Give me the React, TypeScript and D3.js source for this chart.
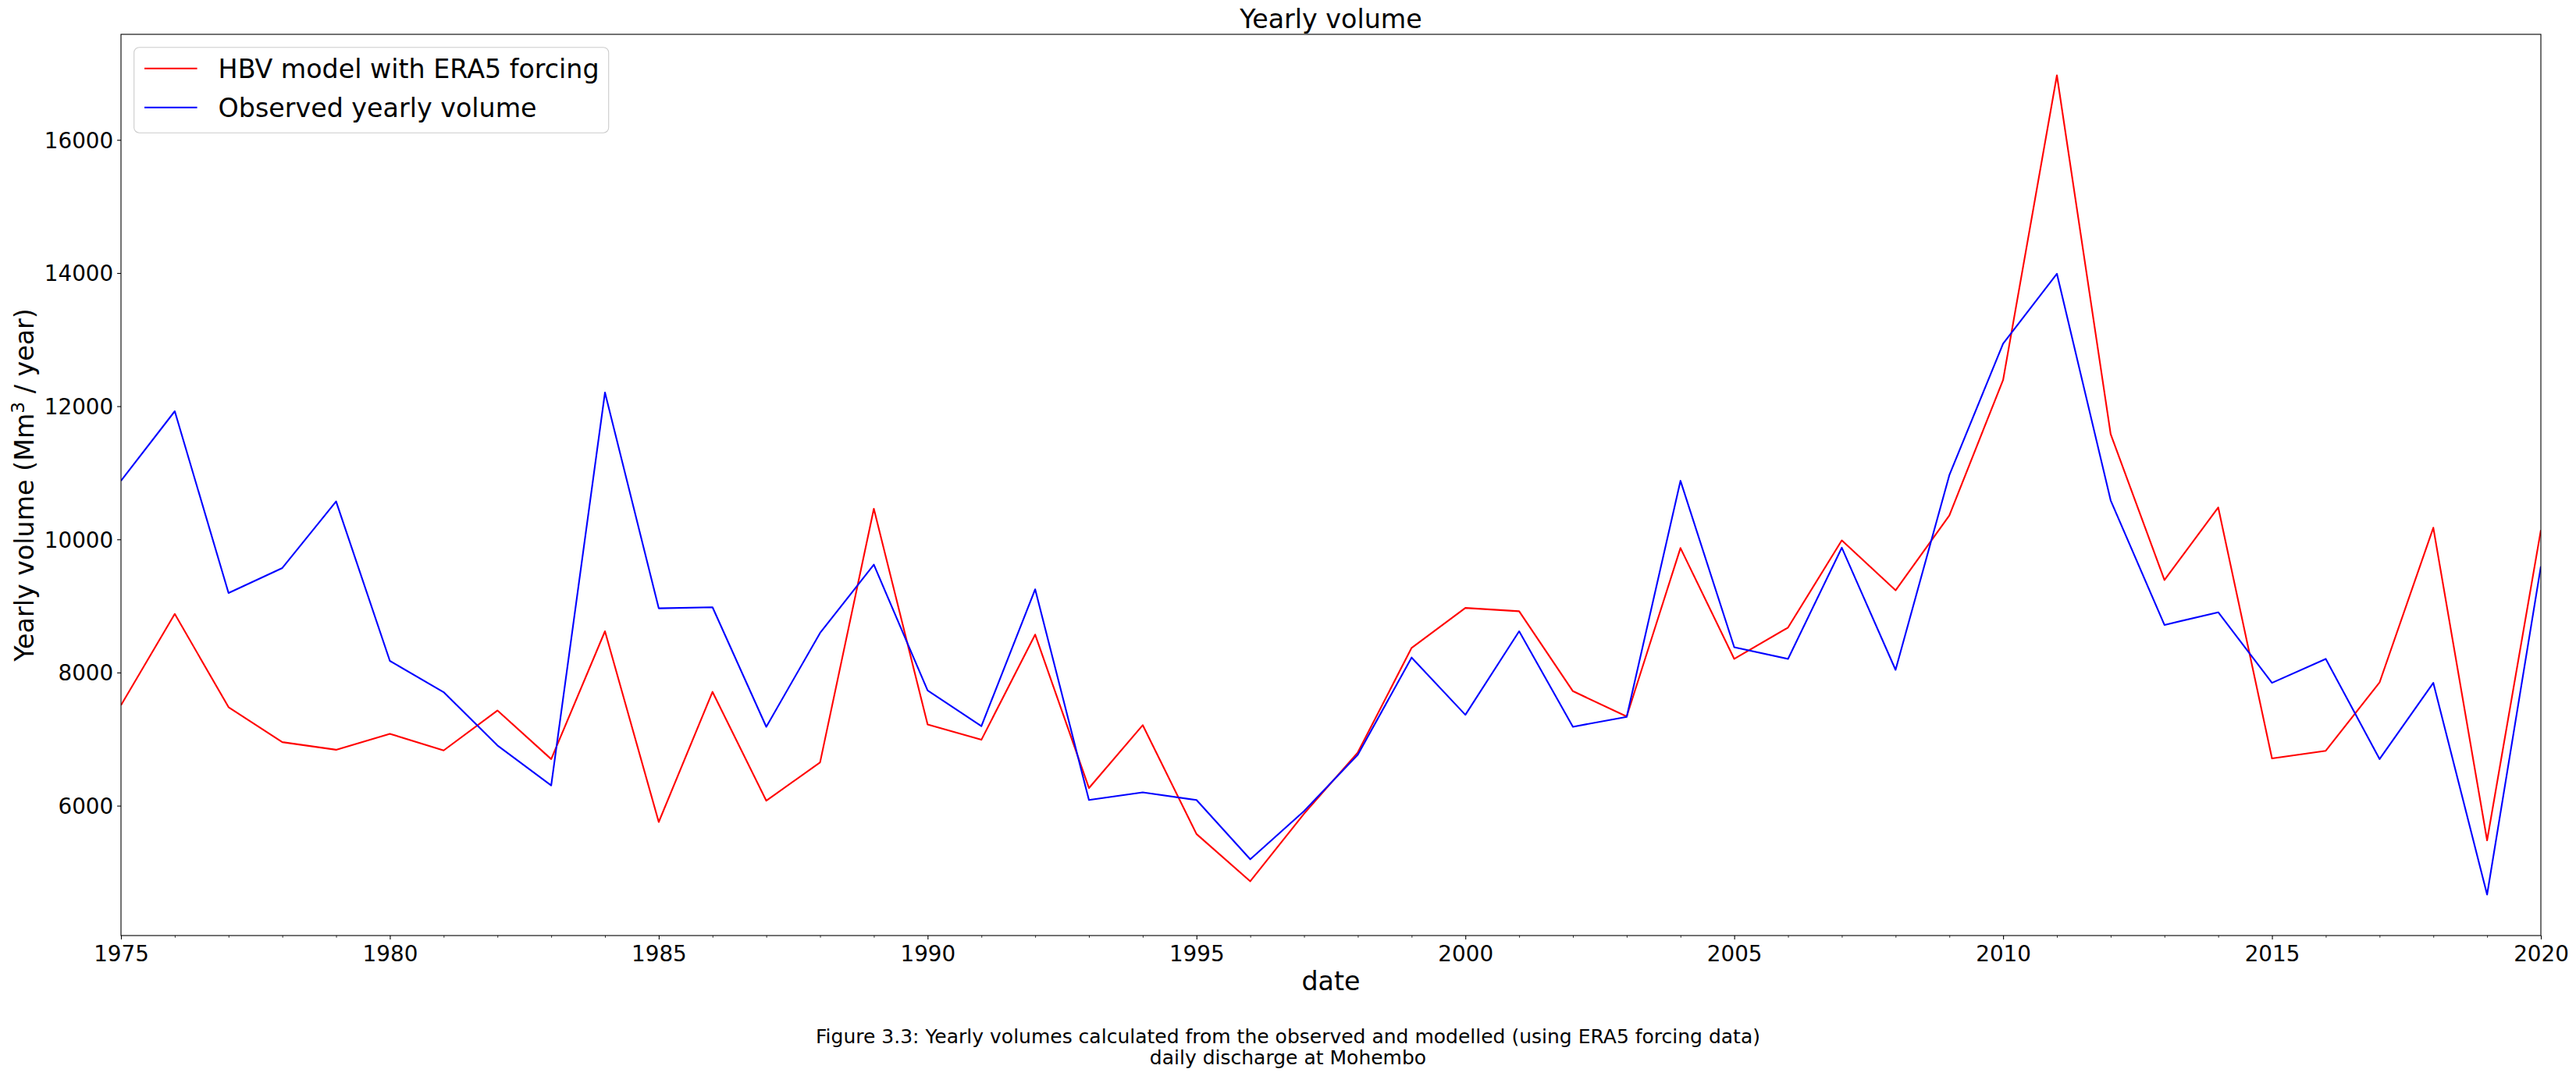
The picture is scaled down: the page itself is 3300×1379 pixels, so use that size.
import React, { useRef, useEffect } from "react";
import * as d3 from "d3";

// Years on the x axis
const years = [
  1975, 1976, 1977, 1978, 1979, 1980, 1981, 1982, 1983, 1984,
  1985, 1986, 1987, 1988, 1989, 1990, 1991, 1992, 1993, 1994,
  1995, 1996, 1997, 1998, 1999, 2000, 2001, 2002, 2003, 2004,
  2005, 2006, 2007, 2008, 2009, 2010, 2011, 2012, 2013, 2014,
  2015, 2016, 2017, 2018, 2019, 2020,
];

// Modelled yearly volume (HBV, ERA5 forcing), Mm3 / year
const hbvVolume = [
  7510, 8880, 7480, 6955, 6840, 7080, 6830, 7430, 6700, 8620,
  5755, 7710, 6075, 6650, 10460, 7220, 6990, 8570, 6265, 7210,
  5575, 4865, 5880, 6800, 8370, 8970, 8920, 7720, 7340, 9870,
  8205, 8675, 9985, 9235, 10360, 12395, 16970, 11580, 9390, 10480,
  6710, 6825, 7850, 10175, 5480, 10140,
];

// Observed yearly volume at Mohembo, Mm3 / year
const observedVolume = [
  10880, 11925, 9195, 9570, 10570, 8175, 7705, 6905, 6305, 12205,
  8965, 8980, 7185, 8595, 9620, 7730, 7195, 9250, 6085, 6200,
  6085, 5195, 5920, 6765, 8225, 7365, 8620, 7185, 7335, 10880,
  8380, 8205, 9875, 8040, 10965, 12940, 13990, 10585, 8715, 8905,
  7845, 8205, 6700, 7845, 4665, 9595,
];

const xTicks = [1975, 1980, 1985, 1990, 1995, 2000, 2005, 2010, 2015, 2020];
const yTicks = [6000, 8000, 10000, 12000, 14000, 16000];

const seriesLabels = ["HBV model with ERA5 forcing", "Observed yearly volume"];
const seriesColors = ["red", "blue"];

const captionLines = [
  "Figure 3.3: Yearly volumes calculated from the observed and modelled (using ERA5 forcing data)",
  "daily discharge at Mohembo",
];

const WIDTH = 3300;
const HEIGHT = 1379;
const FONT = "'DejaVu Sans', sans-serif";

const YearlyVolumeChart: React.FC = () => {
  const svgRef = useRef<SVGSVGElement>(null);

  useEffect(() => {
    const svg = d3.select(svgRef.current);
    svg.selectAll("*").remove();

    // plot area
    const left = 155;
    const right = 3255;
    const top = 44;
    const bottom = 1199;

    const x = d3.scaleLinear().domain([1975, 2020]).range([left, right]);

    // auto range with 5% margins, like the plotting default
    const all = [...hbvVolume, ...observedVolume];
    const [lo, hi] = d3.extent(all) as [number, number];
    const pad = (hi - lo) * 0.05;
    const y = d3.scaleLinear().domain([lo - pad, hi + pad]).range([bottom, top]);

    svg.append("rect").attr("width", WIDTH).attr("height", HEIGHT).attr("fill", "#fff");

    const plot = svg.append("g");
    plot
      .append("clipPath")
      .attr("id", "plot-clip")
      .append("rect")
      .attr("x", left)
      .attr("y", top)
      .attr("width", right - left)
      .attr("height", bottom - top);

    const line = d3
      .line<number>()
      .x((_, i) => x(years[i]))
      .y((d) => y(d));

    [hbvVolume, observedVolume].forEach((values, i) => {
      plot
        .append("path")
        .datum(values)
        .attr("d", line)
        .attr("fill", "none")
        .attr("stroke", seriesColors[i])
        .attr("stroke-width", 2.1)
        .attr("stroke-linejoin", "round")
        .attr("clip-path", "url(#plot-clip)");
    });

    // minor ticks, one per year
    const xMinor = svg
      .append("g")
      .attr("transform", `translate(0,${bottom})`)
      .call(
        d3
          .axisBottom(x)
          .tickValues(years.filter((yr) => !xTicks.includes(yr)))
          .tickSize(2.8)
          .tickFormat(() => "")
      );
    xMinor.select(".domain").remove();
    xMinor.selectAll("line").attr("stroke", "#000").attr("stroke-width", 0.8);

    // major x ticks
    const xAxis = svg
      .append("g")
      .attr("transform", `translate(0,${bottom})`)
      .call(
        d3
          .axisBottom(x)
          .tickValues(xTicks)
          .tickSize(4.9)
          .tickPadding(4.9)
          .tickFormat(d3.format("d") as any)
      );
    xAxis.select(".domain").remove();
    xAxis.selectAll("line").attr("stroke", "#000").attr("stroke-width", 1.1);
    xAxis
      .selectAll("text")
      .attr("dy", "0.82em")
      .attr("fill", "#000")
      .style("font-family", FONT)
      .style("font-size", "27.8px");

    const yAxis = svg
      .append("g")
      .attr("transform", `translate(${left},0)`)
      .call(
        d3
          .axisLeft(y)
          .tickValues(yTicks)
          .tickSize(4.9)
          .tickPadding(4.9)
          .tickFormat(d3.format("d") as any)
      );
    yAxis.select(".domain").remove();
    yAxis.selectAll("line").attr("stroke", "#000").attr("stroke-width", 1.1);
    yAxis
      .selectAll("text")
      .attr("dy", "0.36em")
      .attr("fill", "#000")
      .style("font-family", FONT)
      .style("font-size", "27.8px");

    // axes frame
    svg
      .append("rect")
      .attr("x", left)
      .attr("y", top)
      .attr("width", right - left)
      .attr("height", bottom - top)
      .attr("fill", "none")
      .attr("stroke", "#000")
      .attr("stroke-width", 1.1);

    // title and axis labels
    svg
      .append("text")
      .attr("x", (left + right) / 2)
      .attr("y", 36)
      .attr("text-anchor", "middle")
      .style("font-family", FONT)
      .style("font-size", "33.3px")
      .text("Yearly volume");

    svg
      .append("text")
      .attr("x", (left + right) / 2)
      .attr("y", 1269)
      .attr("text-anchor", "middle")
      .style("font-family", FONT)
      .style("font-size", "33.3px")
      .text("date");

    const yLabel = svg
      .append("text")
      .attr("transform", `translate(43,${(top + bottom) / 2}) rotate(-90)`)
      .attr("text-anchor", "middle")
      .style("font-family", FONT)
      .style("font-size", "33.3px");
    yLabel.append("tspan").text("Yearly volume (Mm");
    yLabel
      .append("tspan")
      .attr("dy", -12)
      .style("font-size", "23.3px")
      .text("3");
    yLabel.append("tspan").attr("dy", 12).text(" / year)");

    // legend
    const legend = svg.append("g");
    legend
      .append("rect")
      .attr("x", 171.7)
      .attr("y", 60.7)
      .attr("width", 608)
      .attr("height", 109.5)
      .attr("rx", 6.7)
      .attr("fill", "#fff")
      .attr("fill-opacity", 0.8)
      .attr("stroke", "#cccccc")
      .attr("stroke-width", 1.1);

    seriesLabels.forEach((label, i) => {
      const cy = 87.7 + i * 50;
      legend
        .append("line")
        .attr("x1", 185)
        .attr("x2", 252.6)
        .attr("y1", cy)
        .attr("y2", cy)
        .attr("stroke", seriesColors[i])
        .attr("stroke-width", 2.1);
      legend
        .append("text")
        .attr("x", 279.6)
        .attr("y", cy + 12.3)
        .style("font-family", FONT)
        .style("font-size", "33.3px")
        .text(label);
    });

    // figure caption
    captionLines.forEach((txt, i) => {
      svg
        .append("text")
        .attr("x", WIDTH / 2)
        .attr("y", 1337 + i * 27)
        .attr("text-anchor", "middle")
        .style("font-family", FONT)
        .style("font-size", "25px")
        .text(txt);
    });
  }, []);

  return (
    <svg
      ref={svgRef}
      width={WIDTH}
      height={HEIGHT}
      style={{ position: "absolute", left: 0, top: 0 }}
    ></svg>
  );
};

export default function App() {
  return <YearlyVolumeChart />;
}
